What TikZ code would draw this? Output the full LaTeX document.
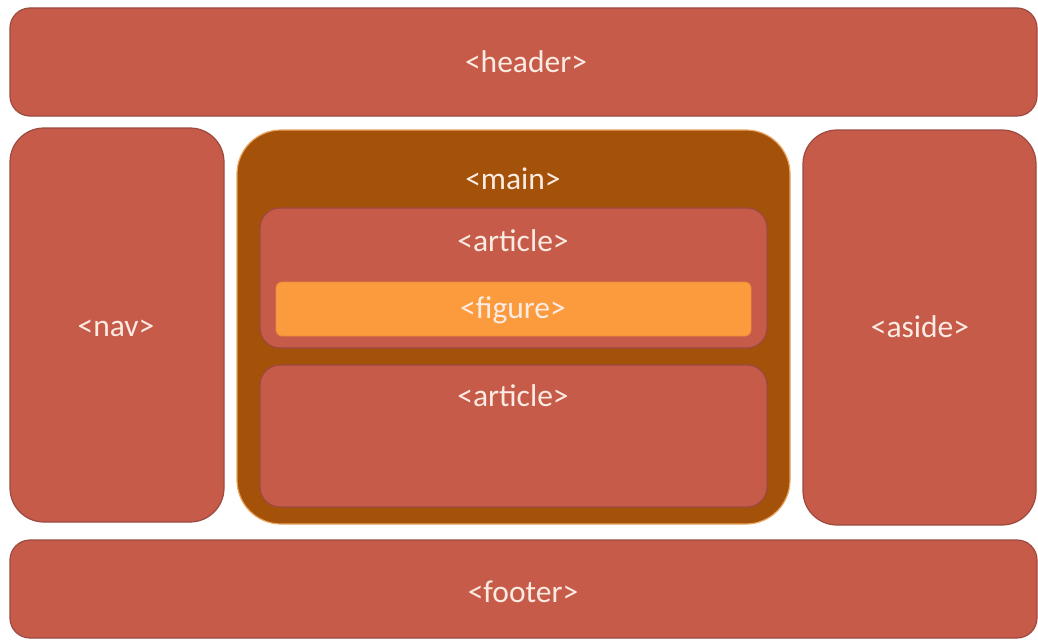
\documentclass[tikz,border=0pt]{standalone}
\usepackage{fontspec}
\setmainfont{Carlito}
\definecolor{boxred}{HTML}{C65B49}
\definecolor{boxedge}{HTML}{9C4A40}
\definecolor{mainbrown}{HTML}{A4510A}
\definecolor{mainedge}{HTML}{E9A45E}
\definecolor{figorange}{HTML}{FC9B3E}
\definecolor{figedge}{HTML}{E98A3A}
\definecolor{tagtext}{HTML}{FBEBE2}
\tikzset{
  x=1pt, y=-1pt,
  block/.style={draw=boxedge, line width=1.2pt, fill=boxred},
  mainblock/.style={draw=mainedge, line width=1.2pt, fill=mainbrown},
  figblock/.style={draw=figedge, line width=0.8pt, fill=figorange},
  tag/.style={text=tagtext, font=\fontsize{31.5}{34}\selectfont, inner sep=0pt, anchor=base},
}
\begin{document}
\begin{tikzpicture}
  \useasboundingbox[fill=white] (0,0) rectangle (1038,642);
  % page regions
  \path[block, rounded corners=20pt] (10,8) rectangle (1037,116);
  \coordinate (header) at (526,73);
  \path[block, rounded corners=34pt] (10,128) rectangle (224,522);
  \coordinate (nav) at (116,336);
  \path[mainblock, rounded corners=44pt] (237,130) rectangle (790,524);
  \coordinate (main) at (513,189);
  \path[block, rounded corners=20pt] (260,208) rectangle (767,348);
  \coordinate (article1) at (513,251);
  \path[figblock, rounded corners=6pt] (276,282) rectangle (751,336);
  \coordinate (figure) at (513,318);
  \path[block, rounded corners=20pt] (260,365) rectangle (767,507);
  \coordinate (article2) at (513,406);
  \path[block, rounded corners=34pt] (803,130) rectangle (1036,525);
  \coordinate (aside) at (920,337);
  \path[block, rounded corners=20pt] (10,540) rectangle (1037,638);
  \coordinate (footer) at (523,602);
  % tag labels
  \node[tag] (headertxt) at (header) {<header>};
  \node[tag] (navtxt) at (nav) {<nav>};
  \node[tag] (maintxt) at (main) {<main>};
  \node[tag] (article1txt) at (article1) {<article>};
  \node[tag] (figuretxt) at (figure) {<figure>};
  \node[tag] (article2txt) at (article2) {<article>};
  \node[tag] (asidetxt) at (aside) {<aside>};
  \node[tag] (footertxt) at (footer) {<footer>};
\end{tikzpicture}
\end{document}
